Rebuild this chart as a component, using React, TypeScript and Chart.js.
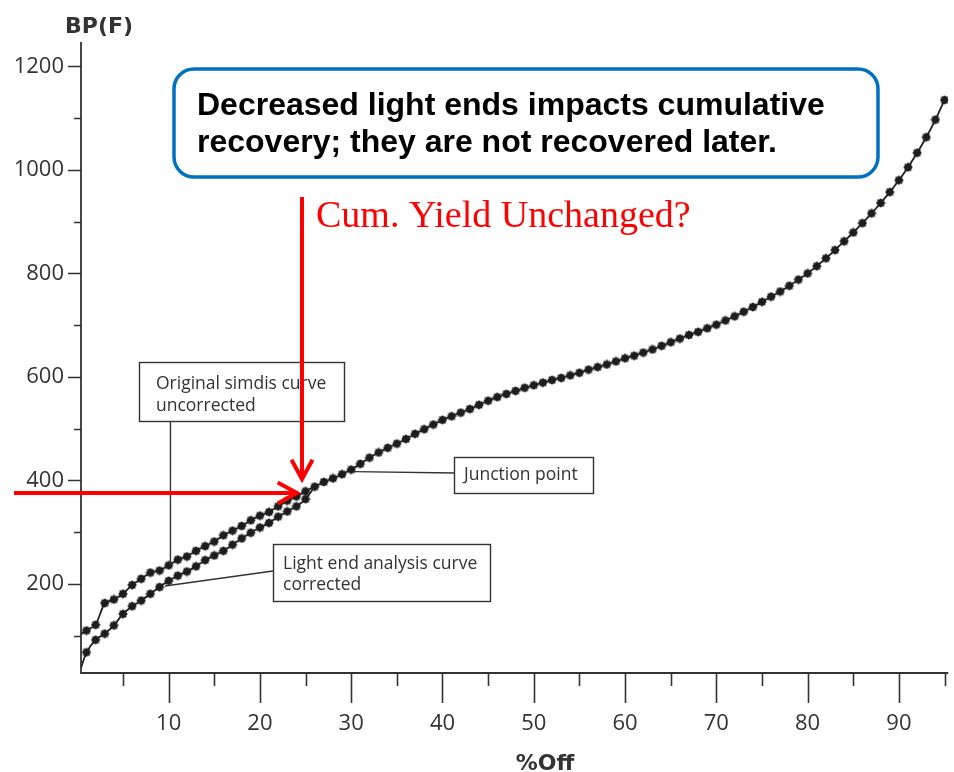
import { useEffect, useRef } from 'react';
import { Chart, registerables } from 'chart.js';

Chart.register(...registerables);

// Simulated distillation: boiling point (°F) against cumulative percent off
const originalOff = [
  0.4, 1, 2, 3, 4, 5, 6, 7, 8, 9, 10, 11, 12, 13, 14, 15, 16, 17, 18, 19, 20,
  21, 22, 23, 24, 25, 26, 27, 28, 29, 30, 31, 32, 33, 34, 35, 36, 37, 38, 39, 40,
  41, 42, 43, 44, 45, 46, 47, 48, 49, 50, 51, 52, 53, 54, 55, 56, 57, 58, 59, 60,
  61, 62, 63, 64, 65, 66, 67, 68, 69, 70, 71, 72, 73, 74, 75, 76, 77, 78, 79, 80,
  81, 82, 83, 84, 85, 86, 87, 88, 89, 90, 91, 92, 93, 94, 95,
];
const originalBP = [
  103, 110, 121, 163, 170, 181, 198, 210, 222, 226, 236, 247, 253, 264, 273, 282,
  294, 303, 312, 323, 332, 339, 350, 361, 369, 379, 388, 397, 404, 412, 421, 432,
  444, 454, 463, 471, 480, 490, 499, 508, 517, 524, 531, 538, 546, 554, 561, 567,
  573, 579, 584, 589, 594, 598, 603, 608, 614, 619, 624, 630, 636, 641, 647, 653,
  660, 667, 674, 681, 687, 694, 701, 709, 717, 726, 735, 745, 755, 765, 776, 788,
  800, 814, 829, 845, 862, 879, 897, 916, 936, 957, 980, 1005, 1033, 1063, 1097, 1135,
];

// Light-end corrected front section, joining the original curve near 26 %
const correctedOff = [
  0.4, 1, 2, 3, 4, 5, 6, 7, 8, 9, 10, 11, 12, 13, 14, 15, 16, 17, 18, 19, 20,
  21, 22, 23, 24, 25, 26,
];
const correctedBP = [
  38, 68, 92, 104, 120, 142, 157, 168, 181, 194, 206, 216, 224, 234, 246, 255,
  264, 276, 288, 299, 309, 318, 330, 340, 350, 364, 388,
];

const xTickValues = [5, 10, 15, 20, 25, 30, 35, 40, 45, 50, 55, 60, 65, 70, 75, 80, 85, 90, 95];
const xLabelValues = [10, 20, 30, 40, 50, 60, 70, 80, 90];
const yTickValues = [100, 200, 300, 400, 500, 600, 700, 800, 900, 1000, 1100, 1200];
const yLabelValues = [200, 400, 600, 800, 1000, 1200];

const INK = '#333333';
const SCAN_FONT = '"Open Sans", "Noto Sans", sans-serif';
const TITLE_FONT = '"DejaVu Sans", Verdana, sans-serif';

function makeDot(): HTMLCanvasElement {
  const c = document.createElement('canvas');
  c.width = 10;
  c.height = 10;
  const g = c.getContext('2d')!;
  g.fillStyle = '#1d1d1f';
  g.beginPath();
  for (let i = 0; i < 16; i++) {
    const a = (i / 16) * Math.PI * 2;
    const r = i % 2 === 0 ? 4.8 : 3.7;
    const px = 5 + r * Math.cos(a);
    const py = 5 + r * Math.sin(a);
    if (i === 0) g.moveTo(px, py);
    else g.lineTo(px, py);
  }
  g.closePath();
  g.fill();
  return c;
}

const axesPlugin = {
  id: 'scanAxes',
  beforeDatasetsDraw(chart: any) {
    const { ctx, chartArea: a, scales } = chart;
    const x = scales.x;
    const y = scales.y;
    ctx.save();
    ctx.strokeStyle = INK;
    ctx.lineWidth = 1.8;
    ctx.beginPath();
    ctx.moveTo(a.left, a.top);
    ctx.lineTo(a.left, a.bottom);
    ctx.lineTo(a.right, a.bottom);
    ctx.stroke();
    ctx.lineWidth = 1.6;
    ctx.beginPath();
    for (const v of xTickValues) {
      const px = Math.round(x.getPixelForValue(v)) + 0.5;
      const len = v % 10 === 0 ? 30 : 13;
      ctx.moveTo(px, a.bottom);
      ctx.lineTo(px, a.bottom + len);
    }
    for (const v of yTickValues) {
      const py = Math.round(y.getPixelForValue(v)) + 0.5;
      const len = v % 200 === 0 ? 13 : 7;
      ctx.moveTo(a.left - len, py);
      ctx.lineTo(a.left, py);
    }
    ctx.stroke();
    ctx.restore();
  },
};

function drawArrow(ctx: CanvasRenderingContext2D, x1: number, y1: number, x2: number, y2: number) {
  const ang = Math.atan2(y2 - y1, x2 - x1);
  const head = 22;
  const spread = 0.5;
  ctx.beginPath();
  ctx.moveTo(x1, y1);
  ctx.lineTo(x2, y2);
  ctx.stroke();
  ctx.beginPath();
  ctx.moveTo(x2 - head * Math.cos(ang - spread), y2 - head * Math.sin(ang - spread));
  ctx.lineTo(x2, y2);
  ctx.lineTo(x2 - head * Math.cos(ang + spread), y2 - head * Math.sin(ang + spread));
  ctx.stroke();
}

function labelBox(ctx: CanvasRenderingContext2D, x: number, y: number, w: number, h: number, lines: string[], tx: number, ty: number, lh: number) {
  ctx.fillStyle = '#ffffff';
  ctx.fillRect(x, y, w, h);
  ctx.strokeStyle = INK;
  ctx.lineWidth = 1.4;
  ctx.strokeRect(x + 0.5, y + 0.5, w, h);
  ctx.fillStyle = INK;
  ctx.font = `17.5px ${SCAN_FONT}`;
  ctx.textAlign = 'left';
  ctx.textBaseline = 'alphabetic';
  lines.forEach((t, i) => ctx.fillText(t, tx, ty + i * lh));
}

const notesPlugin = {
  id: 'notes',
  afterDraw(chart: any) {
    const { ctx, scales } = chart;
    const x = scales.x;
    const y = scales.y;
    const px = (v: number) => x.getPixelForValue(v);
    const py = (v: number) => y.getPixelForValue(v);
    ctx.save();

    // axis titles
    ctx.fillStyle = INK;
    ctx.font = `bold 22px ${TITLE_FONT}`;
    ctx.textAlign = 'left';
    ctx.textBaseline = 'alphabetic';
    ctx.fillText('BP(F)', 65, 33);
    ctx.textAlign = 'center';
    ctx.font = `bold 22px ${TITLE_FONT}`;
    ctx.fillText('%Off', 545, 770);

    // leader lines from the curves to their labels
    ctx.strokeStyle = INK;
    ctx.lineWidth = 1.4;
    ctx.beginPath();
    ctx.moveTo(px(10.2), 421);
    ctx.lineTo(px(10.2), py(236));
    ctx.moveTo(px(9.6), py(196));
    ctx.lineTo(273, 571);
    ctx.moveTo(px(30.3), py(417));
    ctx.lineTo(455, 473);
    ctx.stroke();

    labelBox(ctx, 139, 362, 205, 59, ['Original simdis curve', 'uncorrected'], 156, 389, 22);
    labelBox(ctx, 454, 457, 139, 36, ['Junction point'], 464, 480, 22);
    labelBox(ctx, 273, 544, 217, 57, ['Light end analysis curve', 'corrected'], 283, 569, 21);

    // callout box
    ctx.beginPath();
    ctx.roundRect(174, 69, 704, 108, 20);
    ctx.fillStyle = '#ffffff';
    ctx.fill();
    ctx.lineWidth = 3.5;
    ctx.strokeStyle = '#0070C0';
    ctx.stroke();
    ctx.fillStyle = '#000000';
    ctx.textAlign = 'left';
    ctx.font = 'bold 32px "Liberation Sans", Arial, sans-serif';
    ctx.fillText('Decreased light ends impacts cumulative', 197, 115);
    ctx.fillText('recovery; they are not recovered later.', 197, 152);

    // red question and arrows
    ctx.fillStyle = '#ff0000';
    ctx.font = '38px "Liberation Serif", "Times New Roman", serif';
    ctx.fillText('Cum. Yield Unchanged?', 316, 227);
    ctx.strokeStyle = '#ff0000';
    ctx.lineWidth = 4;
    ctx.lineCap = 'butt';
    ctx.lineJoin = 'miter';
    drawArrow(ctx, 302, 197, 302, 479);
    drawArrow(ctx, 14, 493, 297, 493);

    ctx.restore();
  },
};

export default function App() {
  const ref = useRef<HTMLCanvasElement | null>(null);

  useEffect(() => {
    const canvas = ref.current;
    if (!canvas) return;
    const dot = makeDot();
    const original = originalOff.map((v, i) => ({ x: v, y: originalBP[i] }));
    const corrected = correctedOff.map((v, i) => ({ x: v, y: correctedBP[i] }));
    const lastCorrected = corrected.length - 1;

    const chart = new Chart(canvas, {
      type: 'line',
      data: {
        datasets: [
          {
            label: 'Light end analysis curve corrected',
            data: corrected,
            borderColor: '#222222',
            borderWidth: 1.8,
            tension: 0.2,
            pointStyle: dot as any,
            pointRadius: (c: any) => (c.dataIndex === 0 || c.dataIndex === lastCorrected ? 0 : 4),
          },
          {
            label: 'Original simdis curve uncorrected',
            data: original,
            borderColor: '#222222',
            borderWidth: 1.8,
            tension: 0.2,
            pointStyle: dot as any,
            pointRadius: (c: any) => (c.dataIndex === 0 ? 0 : 4),
          },
        ],
      },
      options: {
        animation: false,
        responsive: false,
        devicePixelRatio: 1,
        events: [],
        layout: { padding: { top: 42, right: 0, bottom: 0, left: 0 } },
        plugins: { legend: { display: false }, tooltip: { enabled: false } },
        scales: {
          x: {
            type: 'linear',
            min: 0.4,
            max: 95.4,
            grid: { display: false, drawTicks: false },
            border: { display: false },
            afterBuildTicks: (s: any) => {
              s.ticks = xTickValues.map((v) => ({ value: v }));
            },
            afterFit: (s: any) => {
              s.height = 99;
              s.paddingLeft = 0;
              s.paddingRight = 0;
            },
            ticks: {
              autoSkip: false,
              maxRotation: 0,
              padding: 38,
              color: INK,
              font: { family: SCAN_FONT, size: 22 },
              callback: (v: any) => (xLabelValues.includes(Number(v)) ? String(v) : ''),
            },
          },
          y: {
            type: 'linear',
            min: 28,
            max: 1247,
            grid: { display: false, drawTicks: false },
            border: { display: false },
            afterBuildTicks: (s: any) => {
              s.ticks = yTickValues.map((v) => ({ value: v }));
            },
            afterFit: (s: any) => {
              s.width = 81;
              s.paddingTop = 0;
              s.paddingBottom = 0;
            },
            ticks: {
              autoSkip: false,
              padding: 17,
              color: INK,
              font: { family: SCAN_FONT, size: 22 },
              callback: (v: any) => (yLabelValues.includes(Number(v)) ? String(v) : ''),
            },
          },
        },
      },
      plugins: [axesPlugin, notesPlugin],
    });

    return () => chart.destroy();
  }, []);

  return (
    <div style={{ position: 'fixed', left: 0, top: 0, width: 954, height: 772, background: '#ffffff' }}>
      <canvas ref={ref} width={954} height={772} style={{ display: 'block' }} />
    </div>
  );
}
